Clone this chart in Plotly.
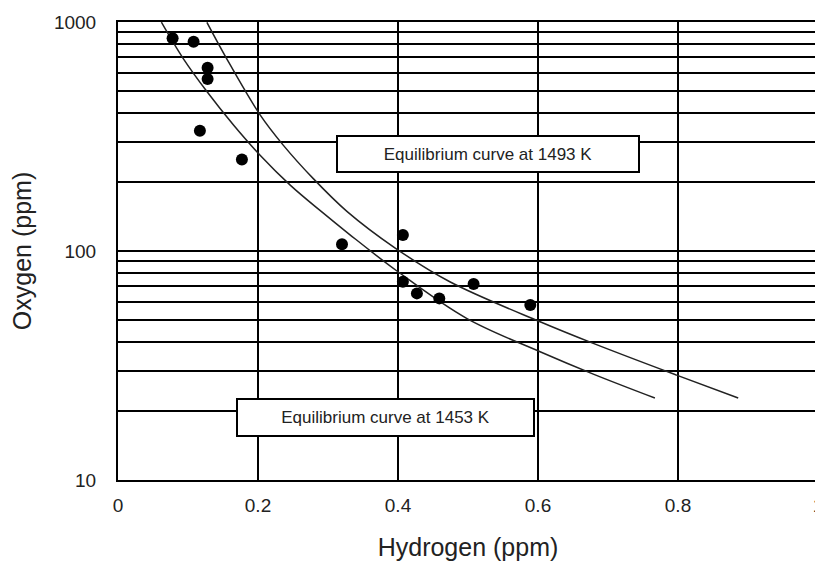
import plotly.graph_objects as go

# Measured data points (hydrogen ppm, oxygen ppm)
hydrogen = [0.078, 0.108, 0.128, 0.128, 0.117, 0.177, 0.320, 0.407, 0.407, 0.427, 0.459, 0.508, 0.589]
oxygen = [849, 820, 631, 564, 335, 251, 107, 117.5, 73.4, 65.3, 62.1, 71.8, 58.1]

# Equilibrium curve at 1493 K (traced)
h_1493 = [0.127, 0.155, 0.203, 0.236, 0.279, 0.327, 0.396, 0.474, 0.603, 0.679, 0.798, 0.886]
o_1493 = [997, 694, 393, 290, 207, 149, 103, 73.4, 49.1, 39.5, 28.7, 22.8]

# Equilibrium curve at 1453 K (traced)
h_1453 = [0.062, 0.093, 0.127, 0.165, 0.203, 0.246, 0.289, 0.331, 0.398, 0.498, 0.603, 0.679, 0.767]
o_1453 = [998, 694, 497, 355, 262, 194, 150, 118, 82, 50.8, 36.3, 29.0, 22.8]

x_ticks = [0, 0.2, 0.4, 0.6, 0.8, 1]
x_tick_text = ["0", "0.2", "0.4", "0.6", "0.8", "1"]
y_grid = [10, 20, 30, 40, 50, 60, 70, 80, 90,
          100, 200, 300, 400, 500, 600, 700, 800, 900, 1000]
y_tick_text = ["10", "", "", "", "", "", "", "", "",
               "100", "", "", "", "", "", "", "", "", "1000"]

FONT = "Liberation Sans, Arial, sans-serif"

fig = go.Figure()
fig.add_trace(go.Scatter(x=h_1493, y=o_1493, mode="lines",
                         line=dict(color="#222", width=1.5, shape="spline"),
                         showlegend=False, hoverinfo="skip"))
fig.add_trace(go.Scatter(x=h_1453, y=o_1453, mode="lines",
                         line=dict(color="#222", width=1.5, shape="spline"),
                         showlegend=False, hoverinfo="skip"))
fig.add_trace(go.Scatter(x=hydrogen, y=oxygen, mode="markers",
                         marker=dict(color="black", size=12),
                         showlegend=False))

fig.add_annotation(x=0.5286, y=2.4236, xref="x", yref="y",
                   text="Equilibrium curve at 1493 K", showarrow=False,
                   width=300, height=34, bgcolor="white",
                   bordercolor="black", borderwidth=2, borderpad=0,
                   font=dict(family=FONT, size=17, color="#222"))
fig.add_annotation(x=0.382, y=1.273, xref="x", yref="y",
                   text="Equilibrium curve at 1453 K", showarrow=False,
                   width=295, height=35, bgcolor="white",
                   bordercolor="black", borderwidth=2, borderpad=0,
                   font=dict(family=FONT, size=17, color="#222"))

# The page has an 8px body margin, so the figure is sized to fit inside it.
fig.update_layout(
    width=815, height=557,
    margin=dict(l=110, r=5, t=14, b=85, autoexpand=False),
    paper_bgcolor="white", plot_bgcolor="white",
    font=dict(family=FONT, color="#222"),
    xaxis=dict(range=[0, 1], tickvals=x_ticks, ticktext=x_tick_text,
               showgrid=True, gridcolor="black", gridwidth=2,
               zeroline=False, showline=True, linecolor="black", linewidth=2,
               mirror=True, ticks="", tickfont=dict(size=19),
               ticklabelstandoff=7, ticklabeloverflow="allow", automargin=False,
               title=dict(text="Hydrogen (ppm)", font=dict(size=25), standoff=24)),
    yaxis=dict(type="log", range=[1, 3], tickvals=y_grid, ticktext=y_tick_text,
               showgrid=True, gridcolor="black", gridwidth=2,
               zeroline=False, showline=True, linecolor="black", linewidth=2,
               mirror=True, ticks="", tickfont=dict(size=19),
               ticklabelstandoff=16, automargin=False,
               title=dict(text="Oxygen (ppm)", font=dict(size=25), standoff=16)),
)

fig.write_html("out.html")
